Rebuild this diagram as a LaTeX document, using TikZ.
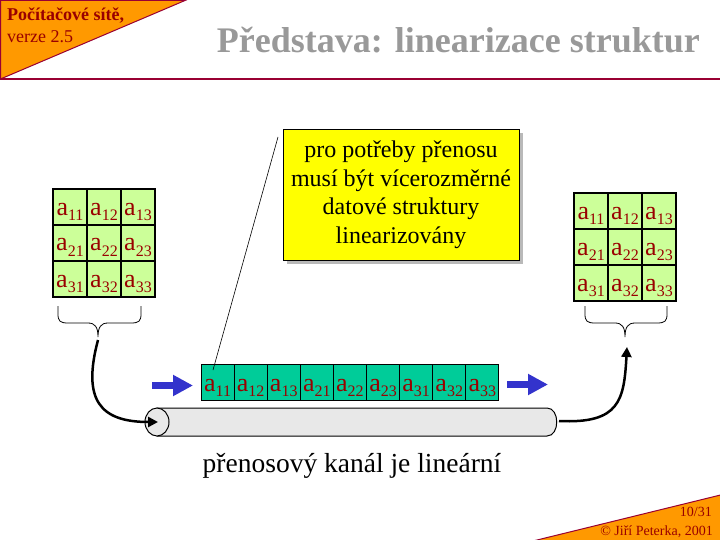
\documentclass[tikz,border=0pt]{standalone}
\usepackage{fontspec}
\setmainfont{Liberation Serif}
\usetikzlibrary{arrows.meta,shadows}
\definecolor{orng}{HTML}{FF9900}
\definecolor{dkred}{HTML}{990033}
\definecolor{txtred}{HTML}{990000}
\definecolor{ttlgray}{HTML}{999999}
\definecolor{cellgreen}{HTML}{CCFF99}
\definecolor{rowgreen}{HTML}{00CC99}
\definecolor{arrblue}{HTML}{3333CC}
\definecolor{pipegray}{HTML}{E8E8E8}
\definecolor{calloutyellow}{HTML}{FFFF00}
\newcommand{\matel}[1]{a\raisebox{-0.2em}{\fontsize{16}{16}\selectfont #1}}
\begin{document}
\begin{tikzpicture}[x=1pt,y=-1pt,
  mcell/.style={draw=black, line width=1.5pt, fill=cellgreen, minimum width=34pt, minimum height=36pt, inner sep=0pt, text=txtred, font=\fontsize{26}{28}\selectfont, text height=20pt, text depth=4pt},
  rcell/.style={draw=black, line width=1pt, fill=rowgreen, minimum width=33.1pt, minimum height=36pt, inner sep=0pt, text=txtred, font=\fontsize{26}{28}\selectfont, text height=21pt, text depth=3pt},
  bracestyle/.style={draw=black, line width=0.8pt},
  flow/.style={draw=black, line width=2.5pt, -{Triangle[length=10pt,width=10pt]}},
  bluearrow/.style={draw=arrblue, line width=7pt, -{Triangle[length=20pt,width=20pt]}},
  hdrtext/.style={text=txtred, inner sep=0pt, anchor=base west}
]
\useasboundingbox (0,0) rectangle (720,540);
% header
\filldraw[draw=dkred, fill=orng, line width=1pt] (0.5,0.5) -- (185,0.5) -- (0.5,79) -- cycle;
\draw[dkred, line width=2pt] (0,79) -- (720,79);
\node[hdrtext, font=\bfseries\fontsize{18}{20}\selectfont] (hdr1) at (7,21) {Počítačové sítě,};
\node[hdrtext, font=\fontsize{18}{20}\selectfont] (hdr2) at (7,43) {verze 2.5};
\node[text=ttlgray, inner sep=0pt, anchor=base east, font=\bfseries\fontsize{36}{40}\selectfont] (title) at (700,53) {Představa: linearizace struktur};
% footer
\filldraw[draw=dkred, fill=orng, line width=1pt] (535,540.5) -- (720.5,495) -- (720.5,540.5) -- cycle;
\node[text=txtred, inner sep=0pt, anchor=base east, font=\fontsize{14}{16}\selectfont] (pg) at (712,516) {10/31};
\node[text=txtred, inner sep=0pt, anchor=base east, font=\fontsize{14}{16}\selectfont] (copy) at (713,535) {© Jiří Peterka, 2001};
% left matrix
\foreach \r in {1,2,3} \foreach \c in {1,2,3} {
  \node[mcell] (L\r\c) at ({70+34*(\c-1)},{207+36*(\r-1)}) {\matel{\r\c}};
}
% right matrix
\foreach \r in {1,2,3} \foreach \c in {1,2,3} {
  \node[mcell] (Q\r\c) at ({591+34*(\c-1)},{211+36*(\r-1)}) {\matel{\r\c}};
}
% braces
\draw[bracestyle] (58,306) -- (58,314) .. controls (58,321) and (60,323) .. (68,323) -- (88,323) .. controls (95,323) and (98,327) .. (98,337) .. controls (98,327) and (101,323) .. (108,323) -- (131,323) .. controls (139,323) and (141,321) .. (141,314) -- (141,306);
\draw[bracestyle] (585,306) -- (585,314) .. controls (585,321) and (587,323) .. (595,323) -- (615,323) .. controls (622,323) and (625,327) .. (625,337) .. controls (625,327) and (628,323) .. (635,323) -- (657,323) .. controls (665,323) and (667,321) .. (667,314) -- (667,306);
% pipe
\filldraw[draw=black, fill=pipegray, line width=1pt] (157,408) -- (547,408) .. controls (560,408) and (560,436) .. (547,436) -- (157,436) -- cycle;
\filldraw[draw=black, fill=pipegray, line width=1pt] (157,422) ellipse (12 and 14);
% row
\foreach \lab [count=\i from 0] in {11,12,13,21,22,23,31,32,33} {
  \node[rcell] (R\lab) at ({217.55+33.1*\i},382) {\matel{\lab}};
}
% blue arrows
\coordinate (b1s) at (152,385.5);
\coordinate (b1e) at (193,385.5);
\coordinate (b2s) at (507,384.5);
\coordinate (b2e) at (548,384.5);
\draw[bluearrow] (b1s) -- (b1e);
\draw[bluearrow] (b2s) -- (b2e);
% flow arrows
\coordinate (lbtip) at (98,340);
\coordinate (rbtip) at (627,347);
\coordinate (pipeIn) at (158,422);
\coordinate (pipeOut) at (559,421);
\draw[flow] (lbtip) .. controls (82,400) and (100,422) .. (pipeIn);
\draw[flow] (pipeOut) .. controls (620,424) and (624,400) .. (rbtip);
% callout
\node[draw=black, line width=0.8pt, fill=calloutyellow, minimum width=236pt, minimum height=131pt, align=center, inner sep=0pt,
  drop shadow={shadow xshift=4pt, shadow yshift=-4pt, fill=gray!55, opacity=1},
  font=\fontsize{24}{28.5}\selectfont] (callout) at (401,194.5)
  {pro potřeby přenosu\\musí být vícerozměrné\\datové struktury\\linearizovány};
\coordinate (cl1) at (278,137);
\coordinate (cl2) at (213,370);
\draw[black, line width=0.6pt] (cl1) -- (cl2);
% caption
\node[inner sep=0pt, anchor=base, font=\fontsize{27.5}{30}\selectfont] (caption) at (352,472) {přenosový kanál je lineární};
\end{tikzpicture}
\end{document}
